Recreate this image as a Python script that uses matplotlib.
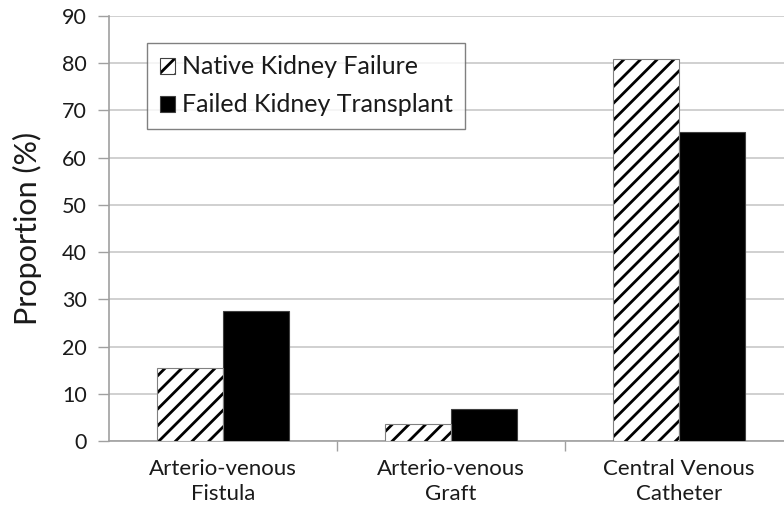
import numpy as np
import matplotlib
matplotlib.use('Agg')
import matplotlib.pyplot as plt
from matplotlib.patches import Patch

plt.rcParams['font.family'] = ['Lato', 'DejaVu Sans']
plt.rcParams['hatch.linewidth'] = 2.0
plt.rcParams['hatch.color'] = 'black'

categories = ['Arterio-venous\nFistula', 'Arterio-venous\nGraft', 'Central Venous\nCatheter']
native = [15.5, 3.6, 80.8]
transplant = [27.6, 6.8, 65.4]
series_names = ['Native Kidney Failure', 'Failed Kidney Transplant']

fig = plt.figure(figsize=(7.84, 5.12), dpi=100)
# axes run past the right edge, as in the reference crop
ax = fig.add_axes([109/784, 71/512, 684/784, 425/512])

x = np.arange(len(categories))
w = 0.29
# hatched bars: black hatch, then a thin grey outline on top
ax.bar(x - w/2, native, w, color='white', edgecolor='black', hatch='//', lw=0, zorder=3)
ax.bar(x - w/2, native, w, fill=False, edgecolor='#808080', lw=0.8, zorder=4)
ax.bar(x + w/2, transplant, w, color='black', edgecolor='#404040', lw=0.8, zorder=3)

ax.set_xlim(-0.5, 2.5)
ax.set_ylim(0, 90)
ax.set_yticks(range(0, 91, 10))
ax.yaxis.grid(True, color='#c8c8c8', lw=1.2, zorder=0)
ax.set_axisbelow(True)

ax.set_xticks(x)
ax.set_xticklabels(categories, fontsize=16, color='#1a1a1a', linespacing=1.3)
ax.set_xticks([0.5, 1.5], minor=True)
ax.tick_params(axis='x', which='major', length=0, pad=13)
ax.tick_params(axis='x', which='minor', length=7, color='#a0a0a0', width=1)
ax.tick_params(axis='y', length=8, color='#a0a0a0', width=1, labelsize=15.5, labelcolor='#1a1a1a', pad=8)

for s in ['top', 'right']:
	ax.spines[s].set_visible(False)
for s in ['left', 'bottom']:
	ax.spines[s].set_color('#a0a0a0')
	ax.spines[s].set_linewidth(1.2)

ax.set_ylabel('Proportion (%)', fontsize=22, color='#1a1a1a', labelpad=14)

h_native = (Patch(facecolor='white', edgecolor='black', hatch='//', lw=0),
			Patch(fill=False, edgecolor='#404040', lw=0.8))
h_trans = Patch(facecolor='black', edgecolor='#404040', lw=0.8)
leg = ax.legend([h_native, h_trans], series_names, loc='upper left',
				bbox_to_anchor=(38/684, 1 - 27/425), fontsize=18,
				frameon=True, fancybox=False, handlelength=0.6, handleheight=0.6,
				handletextpad=0.3, borderpad=0.5, labelspacing=0.6, borderaxespad=0)
leg.get_frame().set_edgecolor('#606060')
leg.get_frame().set_linewidth(1.0)
for t in leg.get_texts():
	t.set_color('#1a1a1a')

plt.savefig('out.png', dpi=100)
